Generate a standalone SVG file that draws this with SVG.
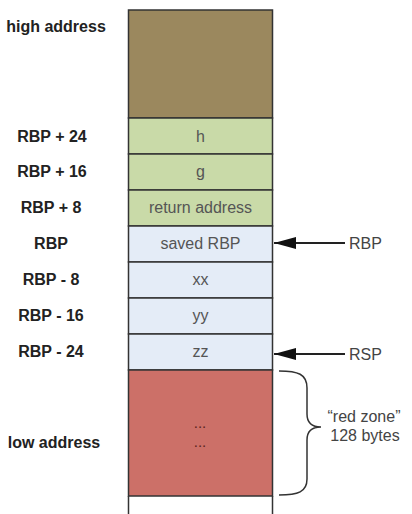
<svg xmlns="http://www.w3.org/2000/svg" width="412" height="514" viewBox="0 0 412 514">
<style>
.cell{stroke:#333;stroke-width:1.5}
.lbl{font-family:"Liberation Sans",Arial,sans-serif;font-size:16px;font-weight:bold;fill:#222;text-anchor:middle}
.in{font-family:"Liberation Sans",Arial,sans-serif;font-size:16px;fill:#555;text-anchor:middle}
.side{font-family:"Liberation Sans",Arial,sans-serif;font-size:16px;fill:#444}
.dots{font-family:"Liberation Sans",Arial,sans-serif;font-size:15px;fill:#5a2420;text-anchor:middle}
.conn{stroke:#222;stroke-width:2;fill:none}
</style>
<defs>
<marker id="ahb" viewBox="0 0 22 12" refX="22" refY="6" markerWidth="22" markerHeight="12" markerUnits="userSpaceOnUse" orient="auto">
<path d="M0,0 L22,6 L0,12 z" fill="#111"/>
</marker>
</defs>
<rect width="412" height="514" fill="#fff"/>
<g id="column-tail">
<line x1="128.5" y1="496" x2="128.5" y2="514" stroke="#333" stroke-width="1.5"/>
<line x1="272.5" y1="496" x2="272.5" y2="514" stroke="#333" stroke-width="1.5"/>
</g>
<g id="high">
<rect class="cell" x="128.5" y="10" width="144" height="108" fill="#9b885e"/>
<text class="lbl" x="56" y="32">high address</text>
</g>
<g id="h">
<rect class="cell" x="128.5" y="118" width="144" height="36" fill="#c9daa8"/>
<text class="in" x="200.5" y="142">h</text>
<text class="lbl" x="52" y="142">RBP + 24</text>
</g>
<g id="g">
<rect class="cell" x="128.5" y="154" width="144" height="36" fill="#c9daa8"/>
<text class="in" x="200.5" y="177">g</text>
<text class="lbl" x="52" y="177">RBP + 16</text>
</g>
<g id="ret">
<rect class="cell" x="128.5" y="190" width="144" height="36" fill="#c9daa8"/>
<text class="in" x="200.5" y="213">return address</text>
<text class="lbl" x="51" y="213">RBP + 8</text>
</g>
<g id="savedrbp">
<rect class="cell" x="128.5" y="226" width="144" height="36" fill="#e4ecf7"/>
<text class="in" x="200.5" y="249">saved RBP</text>
<text class="lbl" x="51" y="249">RBP</text>
</g>
<g id="xx">
<rect class="cell" x="128.5" y="262" width="144" height="36" fill="#e4ecf7"/>
<text class="in" x="200.5" y="285">xx</text>
<text class="lbl" x="51" y="285">RBP - 8</text>
</g>
<g id="yy">
<rect class="cell" x="128.5" y="298" width="144" height="36" fill="#e4ecf7"/>
<text class="in" x="200.5" y="321">yy</text>
<text class="lbl" x="51" y="321">RBP - 16</text>
</g>
<g id="zz">
<rect class="cell" x="128.5" y="334" width="144" height="36" fill="#e4ecf7"/>
<text class="in" x="200.5" y="357">zz</text>
<text class="lbl" x="51" y="357">RBP - 24</text>
</g>
<g id="redzone">
<rect class="cell" x="128.5" y="370" width="144" height="126" fill="#cc7068"/>
<text class="dots" x="200" y="428">...</text>
<text class="dots" x="200" y="447">...</text>
<text class="lbl" x="54" y="448">low address</text>
</g>
<g id="connectors">
<line class="conn" x1="345" y1="243" x2="274" y2="243" marker-end="url(#ahb)"/>
<line class="conn" x1="345" y1="354" x2="274" y2="354" marker-end="url(#ahb)"/>
<path d="M279,371 C298,371 307,374 307,388 L307,414 C307,423 312,427 321,427 C312,427 307,431 307,440 L307,479 C307,492 298,495 279,495" fill="none" stroke="#333" stroke-width="1.5"/>
</g>
<g id="ptr-labels">
<text class="side" x="349" y="249">RBP</text>
<text class="side" x="349" y="360">RSP</text>
<text class="side" x="364" y="422" text-anchor="middle">“red zone”</text>
<text class="side" x="365" y="441" text-anchor="middle">128 bytes</text>
</g>
</svg>
